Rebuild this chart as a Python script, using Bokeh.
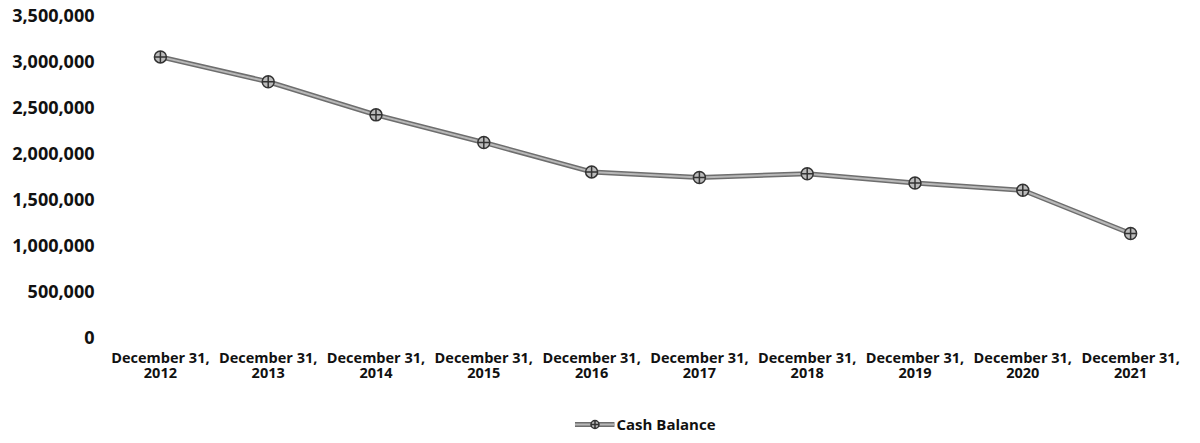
from bokeh.plotting import figure
from bokeh.layouts import column
from bokeh.models import NumeralTickFormatter, Legend, LegendItem, FixedTicker
from bokeh.embed import file_html
from bokeh.resources import INLINE

categories = ["December 31, 2012", "December 31, 2013", "December 31, 2014", "December 31, 2015",
              "December 31, 2016", "December 31, 2017", "December 31, 2018", "December 31, 2019",
              "December 31, 2020", "December 31, 2021"]
cash_balance = [3050000, 2780000, 2420000, 2120000, 1800000, 1740000, 1780000, 1680000, 1600000, 1130000]
y_ticks = [0, 500000, 1000000, 1500000, 2000000, 2500000, 3000000, 3500000]
series_name = "Cash Balance"

FONT = "Open Sans"
xs = list(range(len(categories)))

LINE_OUT = dict(line_color="#6e6e6e", line_width=5)
LINE_IN = dict(line_color="#b8b8b8", line_width=2)
MARK = dict(marker="circle_cross", size=12, fill_color="#bbbbbb", line_color="#333333", line_width=1.5)

p = figure(x_range=(-0.5, len(categories) - 0.5), y_range=(0, 3500000),
           frame_width=1078, frame_height=322,
           output_backend="svg", toolbar_location=None,
           min_border_left=106, min_border_right=0, min_border_top=15, min_border_bottom=0)
p.outline_line_color = None
p.grid.grid_line_color = None

p.line(xs, cash_balance, **LINE_OUT)
p.line(xs, cash_balance, **LINE_IN)
p.scatter(xs, cash_balance, **MARK)

p.yaxis.ticker = FixedTicker(ticks=y_ticks)
p.yaxis.formatter = NumeralTickFormatter(format="0,0")
p.xaxis.ticker = FixedTicker(ticks=xs)
p.xaxis.major_label_overrides = {i: c.replace(", ", ",\n") for i, c in zip(xs, categories)}

for ax in (p.xaxis[0], p.yaxis[0]):
    ax.axis_line_color = None
    ax.major_tick_line_color = None
    ax.minor_tick_line_color = None
    ax.major_tick_in = 0
    ax.major_tick_out = 0
    ax.minor_tick_in = 0
    ax.minor_tick_out = 0
    ax.major_label_text_font = FONT
    ax.major_label_text_font_style = "bold"
    ax.major_label_text_color = "#111111"
p.yaxis.major_label_text_font_size = "18px"
p.yaxis.major_label_standoff = 12
p.xaxis.major_label_text_font_size = "14.5px"
p.xaxis.major_label_text_line_height = 0.8
p.xaxis.major_label_standoff = 10

# Legend strip below the chart; its sample glyphs use the series styles and
# reuse the first series values, which sit outside this strip's visible ranges.
lg = figure(width=1184, height=50, output_backend="svg", toolbar_location=None,
            min_border_left=0, min_border_right=0, min_border_top=0, min_border_bottom=0,
            x_range=(100, 101), y_range=(0, 1))
lg.outline_line_color = None
lg.grid.grid_line_color = None
lg.axis.visible = False
r_out = lg.line(xs[:2], cash_balance[:2], **LINE_OUT)
r_in = lg.line(xs[:2], cash_balance[:2], **LINE_IN)
r_mk = lg.scatter(xs[:2], cash_balance[:2], **MARK)

legend = Legend(items=[LegendItem(label=series_name, renderers=[r_out, r_in, r_mk])],
                orientation="horizontal", location="bottom_center",
                label_text_font=FONT, label_text_font_style="bold",
                label_text_font_size="15px", label_text_color="#111111",
                border_line_color=None, background_fill_alpha=0,
                glyph_width=40, label_standoff=2, margin=0, padding=0)
lg.add_layout(legend, "center")

layout = column(p, lg, spacing=0)
open("out.html", "w").write(file_html(layout, INLINE))
